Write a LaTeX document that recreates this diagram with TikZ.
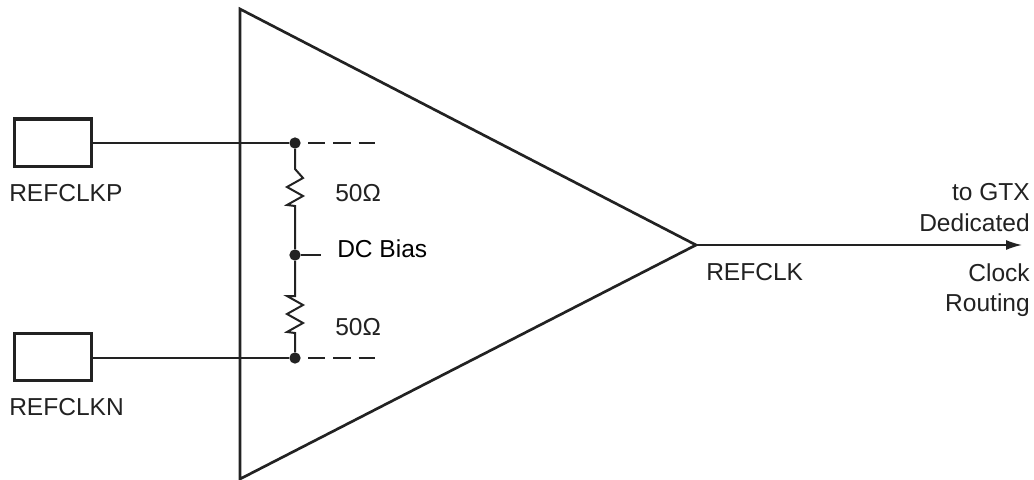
\documentclass[tikz,border=0pt]{standalone}
\usepackage{fontspec}
\setmainfont{Liberation Sans}
\usetikzlibrary{arrows.meta}
\definecolor{inkgrey}{HTML}{222222}
\tikzstyle{padbox}=[draw=inkgrey, line width=2.5pt, minimum width=58pt, minimum height=35.5pt, inner sep=0pt]
\tikzstyle{junction}=[circle, fill=inkgrey, minimum size=8.5pt, inner sep=0pt]
\tikzstyle{wire}=[draw=inkgrey, line width=1.2pt]
\tikzstyle{reswire}=[draw=inkgrey, line width=1.5pt, line join=miter]
\tikzstyle{dashwire}=[wire, dash pattern=on 13pt off 6pt]
\tikzstyle{outwire}=[wire, -{Latex[length=12pt,width=7.5pt]}]
\tikzstyle{pinlabel}=[inner sep=0pt, text=inkgrey, font=\fontsize{18.4}{22}\selectfont]

\begin{document}
\begin{tikzpicture}[x=0.75pt, y=-0.75pt]
  \useasboundingbox (0,0) rectangle (1034,479);

  % Amplifier
  \coordinate (amptop) at (240,9);
  \coordinate (amptip) at (696,245);
  \coordinate (ampbottom) at (240,479);
  \draw[draw=inkgrey, line width=2pt, line join=miter] (amptop) -- (amptip) -- (ampbottom) -- cycle;

  % Pads
  \node (padp) at (53,142.5) [padbox] {};
  \node (padn) at (53,357) [padbox] {};
  \node (padptext) at (9,201) [pinlabel, anchor=base west] {REFCLKP};
  \node (padntext) at (9,415) [pinlabel, anchor=base west] {REFCLKN};

  % Termination
  \node (jtop) at (295,143) [junction] {};
  \node (jmid) at (295,255) [junction] {};
  \node (jbot) at (295,358) [junction] {};
  \coordinate (dashp) at (375,143);
  \coordinate (dashn) at (375,358);
  \coordinate (dashpstart) at (308,143);
  \coordinate (dashnstart) at (308,358);
  \coordinate (biasend) at (321,255);
  \coordinate (res1top) at (295,169);
  \coordinate (res1bot) at (295,206);
  \coordinate (res2top) at (295,296);
  \coordinate (res2bot) at (295,333);

  \node (res1text) at (335,201) [pinlabel, anchor=base west] {50Ω};
  \node (res2text) at (335,335) [pinlabel, anchor=base west] {50Ω};
  \node (biastext) at (337,257) [pinlabel, text=black, anchor=base west] {DC Bias};

  % Output
  \coordinate (outend) at (1022,245);
  \node (outtext) at (706,280) [pinlabel, anchor=base west] {REFCLK};
  \node (gtxtext) at (1030,200) [pinlabel, anchor=base east] {to GTX};
  \node (dedtext) at (1030,231) [pinlabel, anchor=base east] {Dedicated};
  \node (clocktext) at (1030,281) [pinlabel, anchor=base east] {Clock};
  \node (routetext) at (1030,311) [pinlabel, anchor=base east] {Routing};

  % Wires
  \draw[wire] (padp.east |- jtop) -- (jtop);
  \draw[wire] (padn.east |- jbot) -- (jbot);
  \draw[dashwire] (dashpstart) -- (dashp);
  \draw[dashwire] (dashnstart) -- (dashn);
  \draw[wire] (jmid) -- (biasend);
  \draw[reswire] (jtop) -- (res1top) -- ++(8,9) -- ++(-16,9) -- ++(16,9) -- ++(-16,9) -- (res1bot) -- (jmid);
  \draw[reswire] (jmid) -- (res2top) -- ++(-8,0) -- ++(16,9) -- ++(-16,9) -- ++(16,9) -- ++(-16,9) -- (res2bot) -- (jbot);
  \draw[outwire] (amptip) -- (outend);

\end{tikzpicture}
\end{document}
